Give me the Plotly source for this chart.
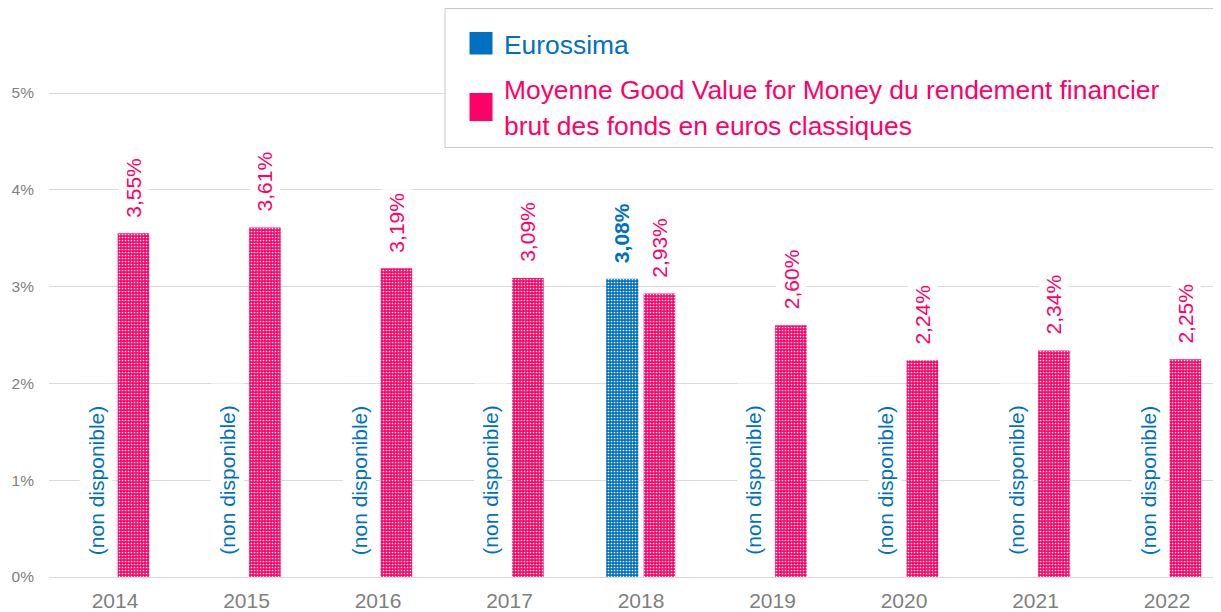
import plotly.graph_objects as go

# ---------------- data ----------------
years = ["2014", "2015", "2016", "2017", "2018", "2019", "2020", "2021", "2022"]
gvm_values = [3.55, 3.61, 3.19, 3.09, 2.93, 2.60, 2.24, 2.34, 2.25]
eurossima_values = [None, None, None, None, 3.08, None, None, None, None]
y_tick_values = [0, 1, 2, 3, 4, 5]
y_tick_labels = ["0%", "1%", "2%", "3%", "4%", "5%"]
name_eurossima = "Eurossima"
name_gvm_lines = ["Moyenne Good Value for Money du rendement financier",
                  "brut des fonds en euros classiques"]
na_text = "(non disponible)"

# ---------------- style ----------------
PINK = "#FF0066"
BLUE = "#0070C0"
GRID = "#D9D9D9"
TICK = "#7F7F7F"
FONT = "Liberation Sans, Arial, sans-serif"

# the page body has an 8px margin: the figure starts at page (8, 8)
OFF = 8
PAGE_W, PAGE_H = 1221, 612
W, H = PAGE_W - OFF, PAGE_H - OFF
PLOT_LEFT, PLOT_BOTTOM = 49, 577          # page pixels
ML = PLOT_LEFT - OFF
MB = PAGE_H - PLOT_BOTTOM
MT, MR = 0, 0
PW, PH = W - ML - MR, H - MT - MB
PX_PER_PCT = 96.8

BLUE_OFF, BLUE_W = -0.265, 0.245
PINK_OFF, PINK_W = 0.02, 0.24


def px_x(px):
    return (px - PLOT_LEFT) / PW


def px_y(py):
    return (PLOT_BOTTOM - py) / PH


def fmt(v):
    return f"{v:.2f}".replace(".", ",") + "%"


def pattern(color):
    return dict(shape=".", fgcolor="white", bgcolor=color, size=3,
                solidity=0.25, fillmode="replace")


fig = go.Figure()
fig.add_trace(go.Bar(
    x=years, y=eurossima_values, name=name_eurossima,
    width=BLUE_W, offset=BLUE_OFF,
    marker=dict(color=BLUE, line_width=0, pattern=pattern(BLUE)),
    showlegend=False,
))
fig.add_trace(go.Bar(
    x=years, y=gvm_values, name=" ".join(name_gvm_lines),
    width=PINK_W, offset=PINK_OFF,
    marker=dict(color=PINK, line_width=0, pattern=pattern(PINK)),
    showlegend=False,
))

annotations = []
for i, (yr, g, e) in enumerate(zip(years, gvm_values, eurossima_values)):
    annotations.append(dict(
        x=i + PINK_OFF + PINK_W / 2, y=g, xref="x", yref="y",
        text=fmt(g), textangle=-90, showarrow=False,
        xanchor="center", yanchor="bottom", yshift=12,
        font=dict(family=FONT, size=21, color=PINK),
        bgcolor="white", borderpad=3,
    ))
    if e is None:
        annotations.append(dict(
            x=i + BLUE_OFF + BLUE_W / 2, y=1.0, xref="x", yref="y",
            text=na_text, textangle=-90, showarrow=False,
            xanchor="center", yanchor="middle",
            width=190, height=30,
            font=dict(family=FONT, size=21, color=BLUE),
            bgcolor="white",
        ))
    else:
        annotations.append(dict(
            x=i + BLUE_OFF + BLUE_W / 2, y=e, xref="x", yref="y",
            text="<b>" + fmt(e) + "</b>", textangle=-90, showarrow=False,
            xanchor="center", yanchor="bottom", yshift=12,
            font=dict(family=FONT, size=21, color=BLUE),
            bgcolor="white", borderpad=3,
        ))

# legend (drawn manually)
annotations.append(dict(
    x=px_x(502), y=px_y(45), xref="paper", yref="paper",
    text=name_eurossima, showarrow=False, xanchor="left", yanchor="middle",
    font=dict(family=FONT, size=26.4, color=BLUE),
))
for line, py in zip(name_gvm_lines, [90, 126]):
    annotations.append(dict(
        x=px_x(502), y=px_y(py), xref="paper", yref="paper",
        text=line, showarrow=False, xanchor="left", yanchor="middle",
        font=dict(family=FONT, size=26.4, color=PINK),
    ))

shapes = [
    dict(type="rect", xref="paper", yref="paper", layer="above",
         x0=px_x(445), x1=px_x(1240), y0=px_y(8.5), y1=px_y(147.5),
         line=dict(color="#C8C8C8", width=1), fillcolor="white"),
    dict(type="rect", xref="paper", yref="paper", layer="above",
         x0=px_x(469.5), x1=px_x(492.5), y0=px_y(32), y1=px_y(54.5),
         line=dict(width=0), fillcolor=BLUE),
    dict(type="rect", xref="paper", yref="paper", layer="above",
         x0=px_x(469.5), x1=px_x(492.5), y0=px_y(93), y1=px_y(121),
         line=dict(width=0), fillcolor=PINK),
]

fig.update_layout(
    width=W, height=H,
    margin=dict(l=ML, r=MR, t=MT, b=MB, pad=0),
    plot_bgcolor="white", paper_bgcolor="white",
    barmode="overlay",
    annotations=annotations, shapes=shapes,
    font=dict(family=FONT),
)
fig.update_xaxes(
    type="category", range=[-0.502, -0.502 + PW / 131.5],
    showgrid=False, showline=True, linecolor=GRID, linewidth=1,
    ticks="", ticklabelstandoff=5,
    tickfont=dict(family=FONT, size=21, color=TICK),
)
fig.update_yaxes(
    range=[0, PH / PX_PER_PCT], tickvals=y_tick_values, ticktext=y_tick_labels,
    showgrid=True, gridcolor=GRID, gridwidth=1, zeroline=False,
    ticks="", ticklabelstandoff=14,
    tickfont=dict(family=FONT, size=15.5, color=TICK),
)

fig.write_html("out.html")
